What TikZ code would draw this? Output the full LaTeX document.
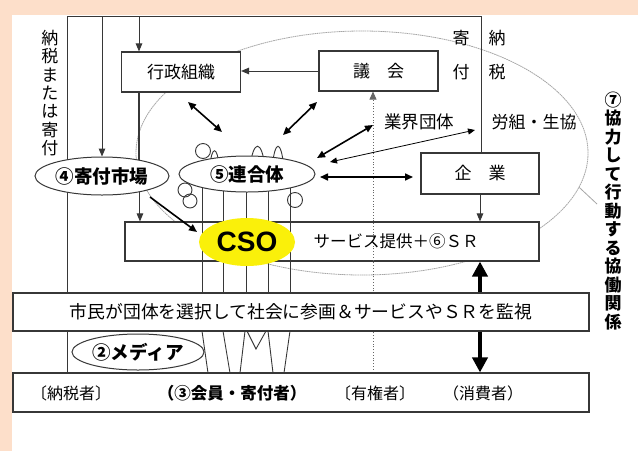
\documentclass[tikz,border=0pt]{standalone}
\usepackage{fontspec}
\setmainfont{Liberation Sans}
\newfontfamily\jp{Noto Sans CJK JP}
\usetikzlibrary{arrows.meta,shapes.geometric,calc}
\definecolor{peach}{RGB}{253,223,202}
\definecolor{cyellow}{RGB}{250,240,10}
\definecolor{boxline}{RGB}{55,55,55}
\newcommand\jfs[2]{\fontsize{#1}{#2}\selectfont}
\pgfdeclarelayer{pagebg}
\pgfdeclarelayer{under}
\pgfdeclarelayer{mid}
\pgfsetlayers{pagebg,under,mid,main}
\begin{document}
\begin{tikzpicture}[x=1pt,y=-1pt,
  box/.style={rectangle,draw=boxline,line width=1.1pt,fill=white,inner sep=0pt},
  oval/.style={ellipse,draw=boxline,line width=1pt,fill=white,inner sep=0pt,font=\jp\bfseries\jfs{18.5}{20}},
  arr/.style={line width=1pt,draw=boxline,-{Triangle[length=8pt,width=6.5pt]}},
  darr/.style={line width=1.6pt,{Triangle[length=8pt,width=7pt]}-{Triangle[length=8pt,width=7pt]}},
  tarr/.style={line width=0.8pt,{Triangle[length=7pt,width=6pt]}-{Triangle[length=7pt,width=6pt]}},
  bigarr/.style={line width=4.5pt,-{Triangle[length=15pt,width=15pt]}},
  frame/.style={line width=0.9pt,draw=boxline},
  fringe/.style={line width=0.9pt,draw=boxline},
  vtext/.style={inner sep=0pt,align=center},
]
\begin{pgfonlayer}{pagebg}
\fill[peach] (0,0) rectangle (638,451);
\fill[white] (12,15) rectangle (638,451);
\end{pgfonlayer}
\useasboundingbox (0,0) rectangle (638,451);

% service box (under the fringe lines)
\begin{pgfonlayer}{mid}
\node[box,minimum width=414pt,minimum height=39pt] (service) at (332,241.5) {};
\end{pgfonlayer}

% boxes
\node[box,minimum width=119pt,minimum height=40pt,font=\jp\jfs{17}{18}] (gyosei) at (181,72) {行政組織};
\node[box,minimum width=119pt,minimum height=40pt,font=\jp\jfs{17}{18}] (gikai) at (378.5,71) {議　会};
\node[box,minimum width=118pt,minimum height=41pt,font=\jp\jfs{17}{18}] (kigyo) at (480,173.5) {企　業};
\node[inner sep=0pt,font=\jp\jfs{16.5}{18}] (servicetxt) at (396,241.5) {サービス提供＋⑥ＳＲ};
\node[box,minimum width=576pt,minimum height=38pt,font=\jp\jfs{17.8}{19}] (shimin) at (301,312) {市民が団体を選択して社会に参画＆サービスやＳＲを監視};
\node[box,minimum width=576pt,minimum height=39pt] (bottom) at (301,392.5) {};
\node[inner sep=0pt,font=\jp\jfs{16}{18}] (nozei) at (71,393) {〔納税者〕};
\node[inner sep=0pt,font=\jp\bfseries\jfs{16.5}{18}] (kaiin) at (232,393) {（③会員・寄付者）};
\node[inner sep=0pt,font=\jp\jfs{16}{18}] (yuken) at (375,393) {〔有権者〕};
\node[inner sep=0pt,font=\jp\jfs{16}{18}] (shohi) at (483,393) {（消費者）};

% ellipses
\node[oval,minimum width=134pt,minimum height=38pt] (kifu) at (102,176) {④寄付市場};
\node[oval,minimum width=136pt,minimum height=36pt] (rengo) at (247,174) {⑤連合体};
\node[oval,minimum width=132pt,minimum height=36pt] (media) at (138,352) {②メディア};
\node[ellipse,fill=cyellow,minimum width=96pt,minimum height=48pt,inner sep=0pt,font=\bfseries\jfs{28}{30}] (cso) at (247,242) {CSO};

% labels
\node[inner sep=0pt,font=\jp\jfs{17.5}{18}] (gyokai) at (419,122) {業界団体};
\node[inner sep=0pt,font=\jp\jfs{17}{18}] (roso) at (534,122) {労組・生協};
\node[vtext,font=\jp\jfs{17}{18.3}] (nozeikifu) at (50,93) {納\\税\\ま\\た\\は\\寄\\付};
\node[vtext,font=\jp\jfs{17}{34}] (kifuv) at (461,55) {寄\\付};
\node[vtext,font=\jp\jfs{17}{34}] (nozeiv) at (497,55) {納\\税};
\node[vtext,font=\jp\bfseries\jfs{17}{18.5}] (kyodolabel) at (613,211) {⑦\\協\\力\\し\\て\\行\\動\\す\\る\\協\\働\\関\\係};

% big collaboration ellipse and frame
\begin{pgfonlayer}{under}
\node[ellipse,draw=gray!70,dash pattern=on 1.6pt off 0.6pt,line width=0.8pt,minimum width=452pt,minimum height=244pt,inner sep=0pt] (kyodo) at (362,153) {};
\coordinate (lead) at (597,204);
\draw[gray!70,line width=0.8pt] (kyodo.-9) -- (lead);
\coordinate (ftl) at (67,16);
\coordinate (ftr) at (481,16);
\draw[frame] (ftl |- bottom.north) -- (ftl) -- (ftr) -- (ftr |- kigyo.north);
\end{pgfonlayer}

% lines hidden behind ellipses and the citizens' box
\coordinate (c102) at (102,16);
\coordinate (c139) at (139,16);
\coordinate (dl) at (373,16);
\begin{pgfonlayer}{mid}
\draw[frame,line width=1.4pt] (c139 |- gyosei.south) -- (c139 |- kifu.center);
\draw[gray!80!black,line width=0.8pt,dotted,-{Triangle[length=8pt,width=7pt]}] (dl |- bottom.north) -- (dl |- gikai.south);
% fringe of the federation
\foreach \x in {202,223,246,268,290} \draw[fringe] (\x,185) -- (\x,331);
\draw[fringe] (202,331) -- (208,373);
\draw[fringe] (223,331) -- (230,373);
\draw[fringe] (245,331) -- (240,373);
\draw[fringe] (247,331) -- (256,349) -- (266,331);
\draw[fringe] (268,331) -- (273,373);
\draw[fringe] (290,331) -- (284,373);
\draw[fringe] (203,151) circle[radius=7.5];
\draw[fringe] (210,168) .. controls (211,145) and (218,145) .. (219,168);
\draw[fringe] (250,168) .. controls (253,139) and (262,139) .. (265,168);
\draw[fringe] (272,168) .. controls (275,139) and (281,139) .. (284,168);
\draw[fringe] (185,190) circle[radius=7];
\draw[fringe] (190,201) circle[radius=7];
\draw[fringe] (295,200) circle[radius=7.5];
\end{pgfonlayer}

% arrows
\draw[arr] (c102) -- (kifu.north);
\draw[arr] (c139) -- (c139 |- gyosei.north);
\draw[arr] (kifu.-23) -- (kifu.-23 |- service.north);
\draw[arr] (gikai.west) -- (gikai.west -| gyosei.east);
\coordinate (a1s) at (188,102); \coordinate (a1e) at (222,132);
\coordinate (a2s) at (317,102); \coordinate (a2e) at (283,135);
\coordinate (a3s) at (373,125); \coordinate (a3e) at (317,158);
\coordinate (a4s) at (475,130); \coordinate (a4e) at (330,162);
\coordinate (a5s) at (320,177); \coordinate (a5e) at (413,177);
\coordinate (a6s) at (150,197); \coordinate (a6e) at (197,232);
\draw[darr] (a1s) -- (a1e);
\draw[darr] (a2s) -- (a2e);
\draw[darr] (a3s) -- (a3e);
\draw[tarr] (a4s) -- (a4e);
\draw[darr] (a5s) -- (a5e);
\draw[line width=1.6pt,-{Triangle[length=8pt,width=7pt]}] (a6s) -- (a6e);
\draw[arr] (kigyo.south) -- (kigyo.south |- service.north);
\draw[bigarr] (kigyo.south |- shimin.north) -- (kigyo.south |- service.south);
\draw[bigarr] (kigyo.south |- shimin.south) -- (kigyo.south |- bottom.north);
\end{tikzpicture}
\end{document}
